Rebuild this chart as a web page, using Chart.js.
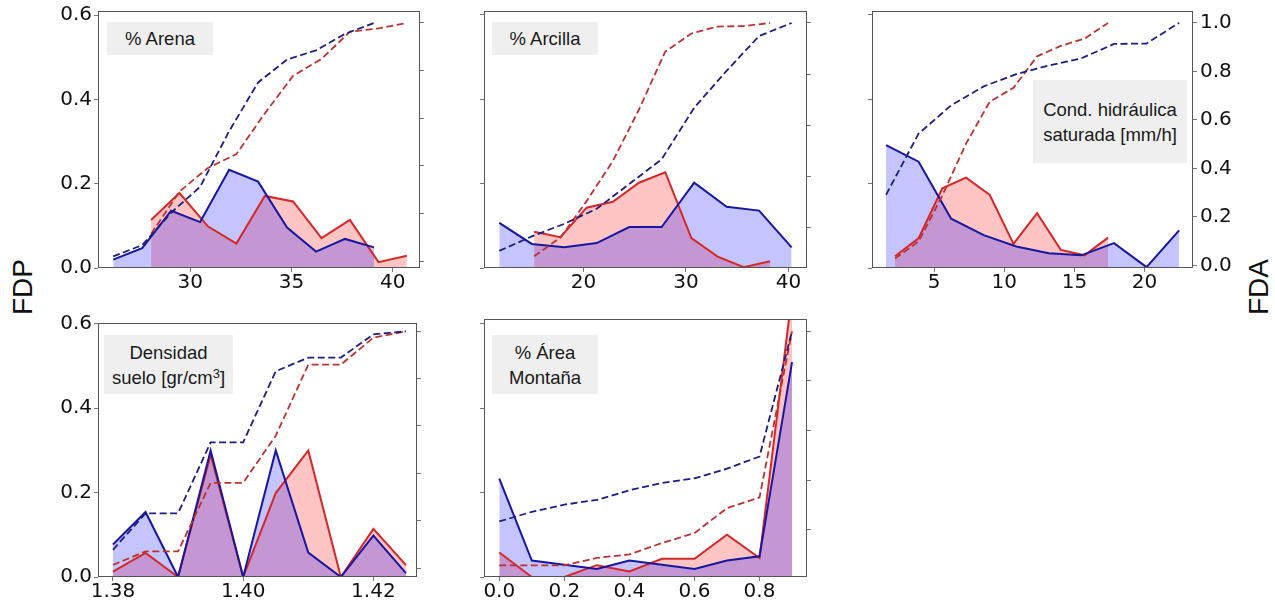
<!DOCTYPE html>
<html>
<head>
<meta charset="utf-8">
<script src="https://cdn.jsdelivr.net/npm/chart.js@4.4.0/dist/chart.umd.min.js"></script>
<style>
  html, body { margin: 0; padding: 0; background: #fff; }
  #page { position: relative; width: 1275px; height: 605px; overflow: hidden; background: #fff; }
  #page canvas { position: absolute; }
  .tag {
    position: absolute; background: #efefef; display: flex; align-items: center; justify-content: center;
    text-align: center; font-family: "Liberation Sans", Arial, sans-serif; font-size: 18.5px;
    line-height: 25px; color: #1a1a1a; z-index: 5;
  }
  .tag sup { font-size: 13px; line-height: 0; vertical-align: 6px; }
  .axisname {
    position: absolute; font-family: "Liberation Sans", Arial, sans-serif; font-size: 28px; color: #111;
    transform: translate(-50%, -50%) rotate(-90deg); white-space: nowrap;
  }
</style>
</head>
<body>
<div id="page">
  <div class="axisname" style="left:23px; top:287px;">FDP</div>
  <div class="axisname" style="left:1259px; top:287px;">FDA</div>
  <div class="tag" style="left:107px; top:22px; width:106px; height:33px;"><div>% Arena</div></div>
  <div class="tag" style="left:492px; top:22px; width:106px; height:33px;"><div>% Arcilla</div></div>
  <div class="tag" style="left:1033px; top:80px; width:154px; height:83px;"><div>Cond. hidráulica<br>saturada [mm/h]</div></div>
  <div class="tag" style="left:104px; top:335px; width:129px; height:59px;"><div>Densidad<br>suelo [gr/cm<sup>3</sup>]</div></div>
  <div class="tag" style="left:492px; top:335px; width:106px; height:59px;"><div>% Área<br>Montaña</div></div>
</div>
<script>
// ---- tick values ----
const fdpTicks = [0.0, 0.2, 0.4, 0.6];
const fdaTicks = [0.0, 0.2, 0.4, 0.6, 0.8, 1.0];
const arenaTicks = [30, 35, 40];
const arcillaTicks = [20, 30, 40];
const condTicks = [5, 10, 15, 20];
const densidadTicks = [1.38, 1.40, 1.42];
const montanaTicks = [0.0, 0.2, 0.4, 0.6, 0.8];

// ---- % Arena ----
const arenaXBlue = [26.2, 27.63, 29.06, 30.49, 31.92, 33.35, 34.78, 36.21, 37.64, 39.07];
const arenaPdfBlue = [0.020, 0.047, 0.136, 0.109, 0.233, 0.205, 0.096, 0.039, 0.069, 0.049];
const arenaCdfBlue = [0.020, 0.067, 0.203, 0.312, 0.545, 0.750, 0.846, 0.885, 0.954, 1.0];
const arenaXRed = [28.07, 29.47, 30.87, 32.28, 33.68, 35.08, 36.48, 37.88, 39.29, 40.69];
const arenaPdfRed = [0.114, 0.178, 0.099, 0.058, 0.171, 0.158, 0.071, 0.114, 0.014, 0.029];
const arenaCdfRed = [0.114, 0.292, 0.391, 0.449, 0.620, 0.778, 0.849, 0.963, 0.977, 1.0];

// ---- % Arcilla ----
const arcillaXBlue = [11.8, 14.97, 18.13, 21.3, 24.47, 27.63, 30.8, 33.97, 37.13, 40.3];
const arcillaPdfBlue = [0.107, 0.057, 0.049, 0.059, 0.097, 0.097, 0.202, 0.145, 0.136, 0.049];
const arcillaCdfBlue = [0.107, 0.164, 0.213, 0.272, 0.369, 0.466, 0.668, 0.813, 0.949, 1.0];
const arcillaXRed = [15.2, 17.76, 20.31, 22.87, 25.42, 27.98, 30.53, 33.09, 35.64, 38.2];
const arcillaPdfRed = [0.086, 0.073, 0.143, 0.157, 0.202, 0.227, 0.071, 0.027, 0.002, 0.016];
const arcillaCdfRed = [0.086, 0.159, 0.302, 0.459, 0.661, 0.888, 0.959, 0.986, 0.988, 1.0];

// ---- Cond. hidraulica ----
const condXBlue = [1.58, 3.9, 6.22, 8.54, 10.86, 13.18, 15.5, 17.82, 20.14, 22.46];
const condPdfBlue = [0.291, 0.252, 0.117, 0.078, 0.051, 0.035, 0.030, 0.059, 0.002, 0.089];
const condCdfBlue = [0.291, 0.543, 0.660, 0.738, 0.789, 0.824, 0.854, 0.913, 0.915, 1.0];
const condXRed = [2.22, 3.91, 5.59, 7.28, 8.97, 10.66, 12.34, 14.03, 15.72, 17.4];
const condPdfRed = [0.028, 0.071, 0.189, 0.214, 0.173, 0.057, 0.130, 0.043, 0.030, 0.072];
const condCdfRed = [0.028, 0.099, 0.288, 0.502, 0.675, 0.732, 0.862, 0.905, 0.935, 1.0];

// ---- Densidad suelo ----
const densidadX = [1.380, 1.385, 1.390, 1.395, 1.400, 1.405, 1.410, 1.415, 1.420, 1.425];
const densidadPdfBlue = [0.077, 0.154, 0.0, 0.300, 0.0, 0.300, 0.058, 0.0, 0.098, 0.009];
const densidadCdfBlue = [0.077, 0.231, 0.231, 0.531, 0.531, 0.831, 0.889, 0.889, 0.987, 1.0];
const densidadPdfRed = [0.013, 0.057, 0.0, 0.290, 0.0, 0.199, 0.300, 0.0, 0.114, 0.028];
const densidadCdfRed = [0.013, 0.070, 0.070, 0.360, 0.360, 0.559, 0.859, 0.859, 0.973, 1.0];

// ---- % Area Montana ----
const montanaX = [0.0, 0.1, 0.2, 0.3, 0.4, 0.5, 0.6, 0.7, 0.8, 0.9];
const montanaPdfBlue = [0.233, 0.039, 0.029, 0.019, 0.039, 0.029, 0.019, 0.039, 0.049, 0.509];
const montanaCdfBlue = [0.233, 0.272, 0.301, 0.320, 0.359, 0.388, 0.407, 0.446, 0.495, 1.0];
const montanaPdfRed = [0.058, 0.0, 0.0, 0.028, 0.013, 0.043, 0.043, 0.100, 0.045, 0.670];
const montanaCdfRed = [0.056, 0.056, 0.056, 0.086, 0.100, 0.146, 0.186, 0.287, 0.330, 1.0];

const BLUE = '#1616a0', BLUE_DASH = '#1d1d82', RED = '#d42828', RED_DASH = '#bb3232';
const BLUE_FILL = 'rgba(0,0,255,0.23)', RED_FILL = 'rgba(255,0,0,0.23)';
const TICK_FONT = { family: 'DejaVu Sans', size: 20, lineHeight: 1 };

// margins around each plot box inside its canvas
const L = 64, R = 48, T = 16, B = 34;

const pts = (xs, ys) => xs.map((x, i) => ({ x: x, y: ys[i] }));

const framePlugin = {
  id: 'frame',
  afterDatasetsDraw(chart) {
    const a = chart.chartArea, ctx = chart.ctx;
    ctx.save();
    ctx.strokeStyle = '#555';
    ctx.lineWidth = 1;
    ctx.strokeRect(a.left + 0.5, a.top + 0.5, a.width - 1, a.height - 1);
    ctx.restore();
  }
};

function fixedTicks(vals) {
  return (scale) => {
    scale.ticks = vals.filter(v => v >= scale.min - 1e-9 && v <= scale.max + 1e-9).map(v => ({ value: v }));
  };
}

function makePanel(p) {
  const w = p.box[2] - p.box[0], h = p.box[3] - p.box[1];
  const cv = document.createElement('canvas');
  cv.width = w + L + R; cv.height = h + T + B;
  cv.style.left = (p.box[0] - L) + 'px';
  cv.style.top = (p.box[1] - T) + 'px';
  document.getElementById('page').appendChild(cv);

  const gridOpts = { drawOnChartArea: false, drawTicks: true, tickLength: 4, tickColor: '#777', tickWidth: 1 };

  new Chart(cv.getContext('2d'), {
    type: 'line',
    data: {
      datasets: [
        { data: pts(p.xBlue, p.cdfBlue), yAxisID: 'y2', borderColor: BLUE_DASH, borderWidth: 1.8, borderDash: [7, 3.5], fill: false },
        { data: pts(p.xRed, p.cdfRed), yAxisID: 'y2', borderColor: RED_DASH, borderWidth: 1.8, borderDash: [7, 3.5], fill: false },
        { data: pts(p.xBlue, p.pdfBlue), yAxisID: 'y', borderColor: BLUE, borderWidth: 2, backgroundColor: BLUE_FILL, fill: 'origin' },
        { data: pts(p.xRed, p.pdfRed), yAxisID: 'y', borderColor: RED, borderWidth: 2, backgroundColor: RED_FILL, fill: 'origin' }
      ]
    },
    options: {
      responsive: false,
      animation: false,
      devicePixelRatio: 1,
      layout: { padding: { top: T, left: 0, right: 0, bottom: 0 } },
      elements: { point: { radius: 0, hoverRadius: 0 }, line: { tension: 0 } },
      plugins: { legend: { display: false }, tooltip: { enabled: false }, filler: { drawTime: 'beforeDatasetsDraw' } },
      scales: {
        x: {
          type: 'linear', position: 'bottom', min: p.xMin, max: p.xMax,
          grid: gridOpts, border: { display: false },
          ticks: { font: TICK_FONT, color: '#111', padding: 1, maxRotation: 0,
                   callback: v => v.toFixed(p.xDec) },
          afterBuildTicks: fixedTicks(p.xTicks),
          afterFit: s => { s.height = B; }
        },
        y: {
          type: 'linear', position: 'left', min: 0, max: p.yMax,
          grid: gridOpts, border: { display: false },
          ticks: { display: p.leftLabels, font: TICK_FONT, color: '#111', padding: 2,
                   callback: v => v.toFixed(1) },
          afterBuildTicks: fixedTicks(fdpTicks),
          afterFit: s => { s.width = L; }
        },
        y2: {
          type: 'linear', position: 'right', min: p.y2Min, max: p.y2Max,
          grid: gridOpts, border: { display: false },
          ticks: { display: p.rightLabels, font: TICK_FONT, color: '#111', padding: 3,
                   callback: v => v.toFixed(1) },
          afterBuildTicks: fixedTicks(fdaTicks),
          afterFit: s => { s.width = R; }
        }
      }
    },
    plugins: [framePlugin]
  });
}

const panels = [
  { box: [98, 11, 420, 268], xMin: 25.45, xMax: 41.34, yMax: 0.61, y2Min: -0.029, y2Max: 1.05,
    xTicks: arenaTicks, xDec: 0, leftLabels: true, rightLabels: false,
    xBlue: arenaXBlue, pdfBlue: arenaPdfBlue, cdfBlue: arenaCdfBlue,
    xRed: arenaXRed, pdfRed: arenaPdfRed, cdfRed: arenaCdfRed },
  { box: [484, 11, 807, 268], xMin: 10.31, xMax: 41.8, yMax: 0.609, y2Min: 0.04, y2Max: 1.047,
    xTicks: arcillaTicks, xDec: 0, leftLabels: false, rightLabels: false,
    xBlue: arcillaXBlue, pdfBlue: arcillaPdfBlue, cdfBlue: arcillaCdfBlue,
    xRed: arcillaXRed, pdfRed: arcillaPdfRed, cdfRed: arcillaCdfRed },
  { box: [872, 11, 1193, 268], xMin: 0.58, xMax: 23.45, yMax: 0.609, y2Min: -0.011, y2Max: 1.049,
    xTicks: condTicks, xDec: 0, leftLabels: false, rightLabels: true,
    xBlue: condXBlue, pdfBlue: condPdfBlue, cdfBlue: condCdfBlue,
    xRed: condXRed, pdfRed: condPdfRed, cdfRed: condCdfRed },
  { box: [98, 323, 417, 577], xMin: 1.3777, xMax: 1.4267, yMax: 0.602, y2Min: -0.038, y2Max: 1.035,
    xTicks: densidadTicks, xDec: 2, leftLabels: true, rightLabels: false,
    xBlue: densidadX, pdfBlue: densidadPdfBlue, cdfBlue: densidadCdfBlue,
    xRed: densidadX, pdfRed: densidadPdfRed, cdfRed: densidadCdfRed },
  { box: [484, 319, 807, 577], xMin: -0.047, xMax: 0.946, yMax: 0.611, y2Min: 0.009, y2Max: 1.05,
    xTicks: montanaTicks, xDec: 1, leftLabels: false, rightLabels: false,
    xBlue: montanaX, pdfBlue: montanaPdfBlue, cdfBlue: montanaCdfBlue,
    xRed: montanaX, pdfRed: montanaPdfRed, cdfRed: montanaCdfRed }
];

panels.forEach(makePanel);
</script>
</body>
</html>
